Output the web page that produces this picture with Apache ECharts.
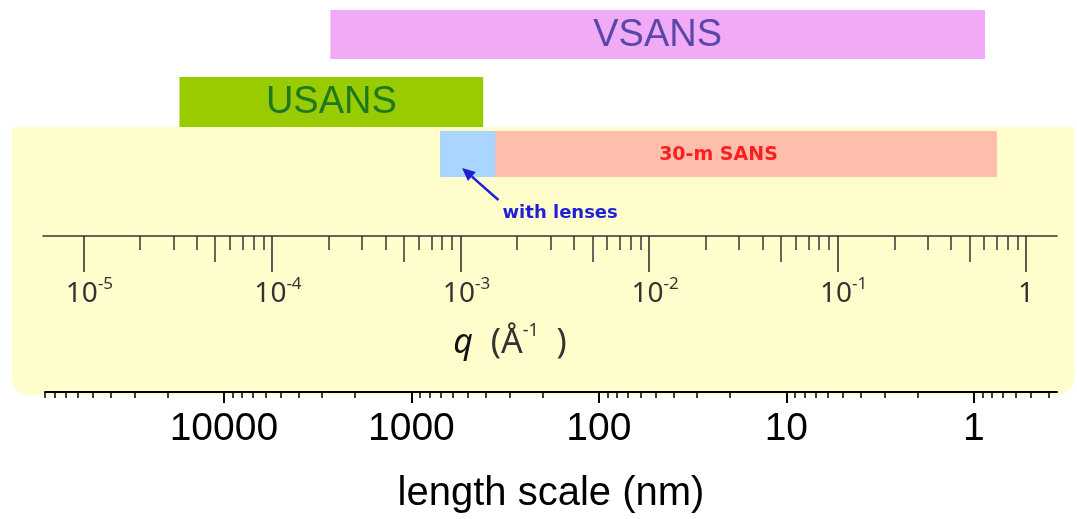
<!DOCTYPE html>
<html>
<head>
<meta charset="utf-8">
<script src="https://cdn.jsdelivr.net/npm/echarts@6/dist/echarts.min.js"></script>
<style>
html,body{margin:0;padding:0;background:#ffffff;}
#chart{width:1077px;height:519px;}
</style>
</head>
<body>
<div id="chart"></div>
<script>
// ---------------- DATA ----------------
const instruments = ['VSANS', 'USANS', '30-m SANS', 'with lenses'];
const qLow  = [2.04e-4, 3.23e-5, 7.8e-4, 7.8e-4];   // Å^-1
const qHigh = [0.606,   1.32e-3, 0.70,   1.53e-3];  // Å^-1
const qAxisRange = [6.1e-6, 1.46];
const qMajorTicks = [1e-5, 1e-4, 1e-3, 1e-2, 1e-1, 1];
const qTickBase = ['10', '10', '10', '10', '10', '1'];
const qTickExp  = ['-5', '-4', '-3', '-2', '-1', ''];
const lengthAxisRange = [0.36, 90000];               // nm
const lengthMajorTicks = [10000, 1000, 100, 10, 1];
const lengthTickLabels = ['10000', '1000', '100', '10', '1'];
const lensArrowQ = [1.59e-3, 1.02e-3];               // arrow tail, head
const lensNoteQ = 1.67e-3;

// ---------------- LAYOUT / STYLE ----------------
const LAYOUT = {
  lanes: [[10, 59], [77, 127], [131, 177], [131, 177]],  // y-axis units (0..236)
  arrowY: [200, 168],
  noteY: 213
};
const STYLE = {
  fills: ['#f0aaf6', '#99cc00', '#ffbdab', '#a9d5ff'],
  textColor: ['#5a48a8', '#1e781e', '#ff1f1f', null],
  textFont: [
    {fontSize: 38, fontFamily: '"Liberation Sans", Arial, sans-serif', fontWeight: 'normal'},
    {fontSize: 38, fontFamily: '"Liberation Sans", Arial, sans-serif', fontWeight: 'normal'},
    {fontSize: 19, fontFamily: '"DejaVu Sans", Verdana, sans-serif', fontWeight: 'bold'},
    null
  ],
  note: '#1f1fd6',
  axisGray: '#333333'
};

const L = Math.log10;
const qMajLog = qMajorTicks.map(L);
const qMidLog = qMajorTicks.slice(0, -1).map(v => L(5 * v));
const qMinorLog = [];
qMajorTicks.slice(0, -1).forEach(v => [2, 3, 4, 6, 7, 8, 9].forEach(m => qMinorLog.push(L(m * v))));

const lenMajLog = lengthMajorTicks.map(L);
const lenMinorLog = [];
[0.1, 1, 10, 100, 1000, 10000].forEach(d => [2, 3, 4, 5, 6, 7, 8, 9].forEach(m => {
  const v = m * d;
  if (v >= lengthAxisRange[0] && v <= lengthAxisRange[1]) lenMinorLog.push(L(v));
}));

const barData = instruments.map((n, i) => [L(qLow[i]), L(qHigh[i]), i]);
const noteData = [[L(lensArrowQ[0]), LAYOUT.arrowY[0], L(lensArrowQ[1]), LAYOUT.arrowY[1], L(lensNoteQ), LAYOUT.noteY]];

const chart = echarts.init(document.getElementById('chart'), null, {renderer: 'canvas'});

const qFont = '"Noto Sans", "Open Sans", sans-serif';
const noteFont = '"DejaVu Sans", Verdana, sans-serif';
const lenFont = '"Liberation Sans", Arial, sans-serif';

const qGrid = {left: 43, right: 20, top: 0, height: 236, outerBoundsMode: 'none', containLabel: false};
const lenGrid = {left: 45, right: 20, top: 391, height: 1, outerBoundsMode: 'none', containLabel: false};

function tickOnlyAxis(gridIndex, range, values, length, color, width, inverse) {
  return {
    gridIndex: gridIndex, type: 'value', position: 'bottom', inverse: !!inverse,
    min: L(range[0]), max: L(range[1]),
    splitLine: {show: false}, axisLine: {show: false, onZero: false}, axisLabel: {show: false},
    axisTick: {show: true, customValues: values, length: length, lineStyle: {color: color, width: width}}
  };
}

const option = {
  animation: false,
  backgroundColor: '#ffffff',
  graphic: [{
    type: 'rect', z: -10, silent: true,
    shape: {x: 12, y: 127, width: 1062, height: 268, r: [0, 0, 16, 16]},
    style: {fill: '#fffdcc'}
  }],
  grid: [
    Object.assign({}, qGrid),
    Object.assign({}, lenGrid),
    Object.assign({}, qGrid),
    Object.assign({}, qGrid),
    Object.assign({}, lenGrid)
  ],
  xAxis: [
    { // q major
      gridIndex: 0, type: 'value', position: 'bottom',
      min: L(qAxisRange[0]), max: L(qAxisRange[1]),
      splitLine: {show: false},
      axisLine: {show: true, onZero: false, lineStyle: {color: STYLE.axisGray, width: 1.6}},
      axisTick: {show: true, customValues: qMajLog, length: 36, lineStyle: {color: STYLE.axisGray, width: 1.6}},
      axisLabel: {
        show: true, customValues: qMajLog, margin: 40,
        fontSize: 28, fontFamily: qFont, color: '#333',
        formatter: function (v) {
          const i = qMajLog.findIndex(t => Math.abs(t - v) < 1e-6);
          if (i < 0) return '';
          return qTickExp[i] ? '{sp| }{base|' + qTickBase[i] + '}{sup|' + qTickExp[i] + '}' : '{base|' + qTickBase[i] + '}';
        },
        rich: {
          sp: {fontSize: 28, width: 12},
          base: {fontSize: 28, fontFamily: qFont, color: '#333', lineHeight: 37},
          sup: {fontSize: 17, fontFamily: qFont, color: '#333', lineHeight: 12, verticalAlign: 'top'}
        }
      },
      name: '{i|q}{n|  (Å}{s|-1}{n|  )}',
      nameLocation: 'middle', nameGap: 86,
      nameTextStyle: {
        padding: [0, 80, 0, 0],
        rich: {
          i: {fontSize: 34, fontFamily: qFont, fontStyle: 'italic', color: '#111', lineHeight: 42},
          n: {fontSize: 34, fontFamily: qFont, color: '#333', lineHeight: 42},
          s: {fontSize: 18, fontFamily: qFont, color: '#333', lineHeight: 14, verticalAlign: 'top'}
        }
      }
    },
    { // length major
      gridIndex: 1, type: 'value', position: 'bottom', inverse: true,
      min: L(lengthAxisRange[0]), max: L(lengthAxisRange[1]),
      splitLine: {show: false},
      axisLine: {show: true, onZero: false, lineStyle: {color: '#000', width: 2}},
      axisTick: {show: true, customValues: lenMajLog, length: 11, lineStyle: {color: '#000', width: 2}},
      axisLabel: {
        show: true, customValues: lenMajLog, margin: 18,
        fontSize: 39, fontFamily: lenFont, color: '#000',
        formatter: function (v) {
          const i = lenMajLog.findIndex(t => Math.abs(t - v) < 1e-6);
          return i < 0 ? '' : lengthTickLabels[i];
        }
      },
      name: 'length scale (nm)', nameLocation: 'middle', nameGap: 82,
      nameTextStyle: {fontSize: 40, fontFamily: lenFont, color: '#000'}
    },
    tickOnlyAxis(2, qAxisRange, qMidLog, 26, STYLE.axisGray, 1.5, false),
    tickOnlyAxis(3, qAxisRange, qMinorLog, 14, STYLE.axisGray, 1.5, false),
    tickOnlyAxis(4, lengthAxisRange, lenMinorLog, 6, '#000', 1.5, true)
  ],
  yAxis: [
    {gridIndex: 0, type: 'value', min: 0, max: 236, inverse: true, show: false},
    {gridIndex: 1, type: 'value', min: 0, max: 1, show: false},
    {gridIndex: 2, type: 'value', min: 0, max: 1, show: false},
    {gridIndex: 3, type: 'value', min: 0, max: 1, show: false},
    {gridIndex: 4, type: 'value', min: 0, max: 1, show: false}
  ],
  series: [
    {
      type: 'custom', xAxisIndex: 0, yAxisIndex: 0, silent: true,
      data: barData,
      renderItem: function (params, api) {
        const i = api.value(2);
        const lane = LAYOUT.lanes[i];
        const p0 = api.coord([api.value(0), lane[0]]);
        const p1 = api.coord([api.value(1), lane[1]]);
        const children = [{
          type: 'rect',
          shape: {x: p0[0], y: p0[1], width: p1[0] - p0[0], height: p1[1] - p0[1]},
          style: {fill: STYLE.fills[i]}
        }];
        if (STYLE.textFont[i]) {
          const f = STYLE.textFont[i];
          children.push({
            type: 'text', x: (p0[0] + p1[0]) / 2, y: (p0[1] + p1[1]) / 2 + 1,
            style: {
              text: instruments[i], fill: STYLE.textColor[i],
              fontSize: f.fontSize, fontFamily: f.fontFamily, fontWeight: f.fontWeight,
              align: 'center', verticalAlign: 'middle'
            }
          });
        }
        return {type: 'group', children: children};
      }
    },
    {
      type: 'custom', xAxisIndex: 0, yAxisIndex: 0, silent: true,
      data: noteData,
      renderItem: function (params, api) {
        const t = api.coord([api.value(0), api.value(1)]);
        const h = api.coord([api.value(2), api.value(3)]);
        const n = api.coord([api.value(4), api.value(5)]);
        const dx = h[0] - t[0], dy = h[1] - t[1];
        const len = Math.hypot(dx, dy), ux = dx / len, uy = dy / len;
        const ah = 13, aw = 6;
        const b = [h[0] - ux * ah, h[1] - uy * ah];
        const px = -uy, py = ux;
        return {type: 'group', children: [
          {type: 'line', shape: {x1: t[0], y1: t[1], x2: b[0], y2: b[1]}, style: {stroke: STYLE.note, lineWidth: 2.5}},
          {type: 'polygon', shape: {points: [h, [b[0] + px * aw, b[1] + py * aw], [b[0] - px * aw, b[1] - py * aw]]}, style: {fill: STYLE.note}},
          {type: 'text', x: n[0], y: n[1], style: {
            text: instruments[3], fill: STYLE.note, fontSize: 18, fontWeight: 'bold',
            fontFamily: noteFont, align: 'left', verticalAlign: 'middle'}}
        ]};
      }
    }
  ]
};
chart.setOption(option);
</script>
</body>
</html>
